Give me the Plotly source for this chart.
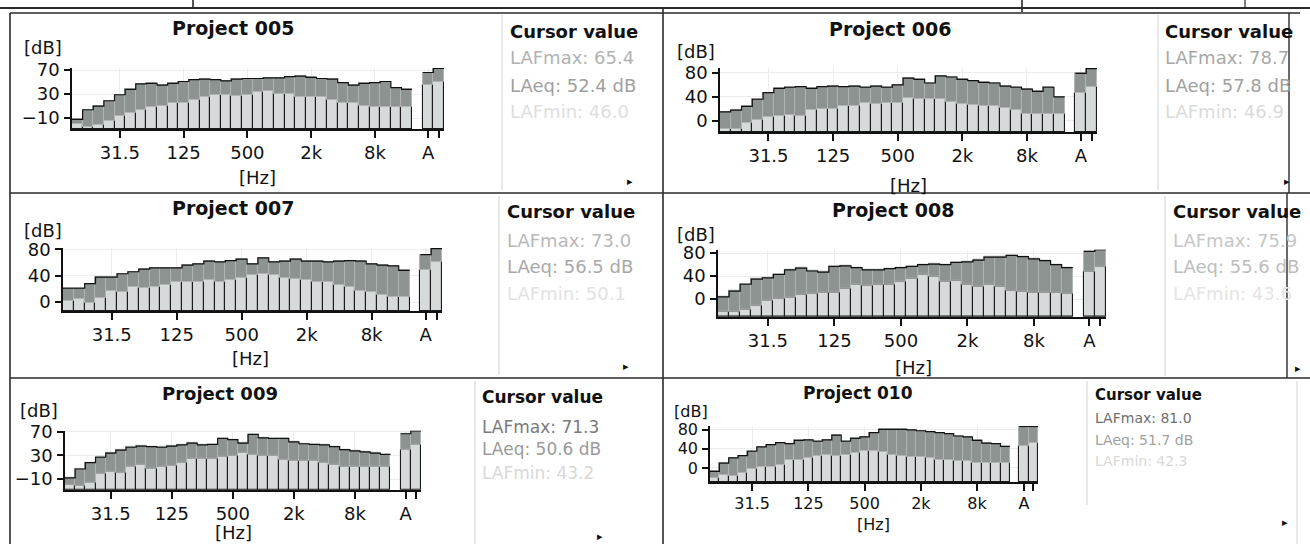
import plotly.graph_objects as go

W, H = 1310, 544
FONT = "DejaVu Sans"

# ---------------- data ----------------
bands = ['12.5', '16', '20', '25', '31.5', '40', '50', '63', '80', '100', '125', '160',
         '200', '250', '315', '400', '500', '630', '800', '1k', '1.25k', '1.6k', '2k',
         '2.5k', '3.15k', '4k', '5k', '6.3k', '8k', '10k', '12.5k', '16k']
labeled_bands = ['31.5', '125', '500', '2k', '8k']
a_label = 'A'

titles = ['Project 005', 'Project 006', 'Project 007', 'Project 008', 'Project 009', 'Project 010']

p005_low = [-19, -24, -21, -15, -7, -2, 4, 9, 10, 15, 16, 20, 25, 29, 29, 27,
            29, 34, 36, 30, 31, 26, 25, 25, 20, 15, 16, 10, 9, 8, 8, 8]
p005_high = [-12, 4, 10, 19, 29, 38, 47, 48, 45, 48, 51, 54, 55, 54, 52, 55,
             56, 56, 57, 57, 59, 60, 58, 56, 55, 49, 45, 48, 49, 51, 41, 38]
p005_a_low = [45, 51]
p005_a_high = [66, 73]

p006_low = [-13, -13, -4, 2, 7, 8, 10, 8, 18, 19, 19, 24, 25, 29, 28, 29,
            30, 38, 36, 36, 36, 32, 28, 26, 25, 24, 21, 18, 12, 12, 12, 12]
p006_high = [15, 18, 24, 36, 47, 54, 56, 57, 54, 57, 58, 57, 58, 56, 58, 56,
             60, 71, 69, 63, 75, 73, 69, 67, 64, 63, 58, 56, 53, 49, 56, 40]
p006_a_low = [46, 56]
p006_a_high = [79, 87]

p007_low = [1, 5, -2, 6, 17, 16, 23, 21, 23, 26, 31, 31, 31, 33, 31, 33,
            36, 41, 43, 41, 36, 35, 33, 31, 31, 26, 23, 17, 15, 11, 8, 7]
p007_high = [21, 21, 28, 38, 38, 43, 46, 50, 52, 52, 52, 56, 58, 62, 61, 63,
             65, 58, 67, 61, 62, 65, 62, 62, 61, 62, 63, 62, 58, 56, 55, 48]
p007_a_low = [48, 61]
p007_a_high = [72, 81]

p008_low = [-22, -22, -18, -11, -2, 1, 2, 8, 10, 12, 12, 18, 25, 23, 26, 26,
            30, 35, 42, 39, 30, 32, 25, 22, 25, 22, 14, 13, 12, 12, 12, 10]
p008_high = [4, 14, 26, 35, 37, 43, 51, 54, 49, 47, 57, 58, 55, 51, 51, 53,
             55, 57, 60, 61, 60, 64, 65, 68, 73, 73, 76, 74, 70, 67, 60, 55]
p008_a_low = [47, 57]
p008_a_high = [83, 86]

p009_low = [-19, -22, -16, -1, 3, 1, 11, 14, 8, 11, 12, 17, 24, 25, 25, 27,
            29, 34, 32, 29, 29, 22, 21, 21, 21, 18, 14, 11, 11, 10, 10, 10]
p009_high = [-8, 7, 18, 27, 34, 39, 44, 46, 45, 44, 46, 48, 51, 48, 49, 59,
             57, 51, 66, 60, 59, 59, 53, 50, 49, 48, 45, 40, 38, 36, 34, 32]
p009_a_low = [39, 48]
p009_a_high = [67, 72]

p010_low = [-21, -14, -17, -10, -2, 3, 2, 7, 17, 16, 21, 26, 28, 26, 28, 31,
            35, 35, 33, 28, 26, 24, 23, 21, 17, 16, 14, 14, 10, 10, 10, 10]
p010_high = [-7, 10, 21, 26, 35, 44, 49, 53, 51, 58, 59, 56, 59, 69, 56, 62,
             65, 74, 81, 81, 81, 80, 78, 76, 74, 72, 67, 65, 58, 52, 51, 45]
p010_a_low = [47, 53]
p010_a_high = [87, 87]

laf_max = [65.4, 78.7, 73.0, 75.9, 71.3, 81.0]
laeq = [52.4, 57.8, 56.5, 55.6, 50.6, 51.7]
laf_min = [46.0, 46.9, 50.1, 43.6, 43.2, 42.3]

lows = [p005_low, p006_low, p007_low, p008_low, p009_low, p010_low]
highs = [p005_high, p006_high, p007_high, p008_high, p009_high, p010_high]
a_lows = [p005_a_low, p006_a_low, p007_a_low, p008_a_low, p009_a_low, p010_a_low]
a_highs = [p005_a_high, p006_a_high, p007_a_high, p008_a_high, p009_a_high, p010_a_high]
ytick_sets = [[-10, 30, 70], [0, 40, 80], [0, 40, 80], [0, 40, 80], [-10, 30, 70], [0, 40, 80]]

# ---------------- layout config (pixels) ----------------
cfg = [
    dict(x0=72, x1=444, ytop=68, ybot=129, yr=(-28, 73.5), title=(233, 28), db=(43, 47), hz=(257, 178),
         fs=18, tfs=19, cur=(508, 31), cdy=(27, 54, 80), cfs=18, lfs=18, tri=(630, 181),
         ccol=('#b2b2b2', '#a0a0a0', '#dedede')),
    dict(x0=720, x1=1097, ytop=68, ybot=132, yr=(-18.5, 88), title=(890, 29), db=(696, 51), hz=(908, 185),
         fs=18, tfs=19, cur=(1163, 31), cdy=(27, 54, 80), cfs=18, lfs=18, tri=(1287, 182),
         ccol=('#a8a8a8', '#a0a0a0', '#dadada')),
    dict(x0=63, x1=442, ytop=248, ybot=311, yr=(-13.5, 82), title=(233, 208), db=(43, 231), hz=(250, 358),
         fs=18, tfs=19, cur=(505, 212), cdy=(28, 55, 81), cfs=18, lfs=18, tri=(626, 366),
         ccol=('#b8b8b8', '#a8a8a8', '#e2e2e2')),
    dict(x0=718, x1=1106, ytop=249.7, ybot=317, yr=(-31, 86), title=(893, 210), db=(696, 234), hz=(913, 367),
         fs=18, tfs=19, cur=(1171, 212), cdy=(28, 55, 81), cfs=18, lfs=18, tri=(1298, 368),
         ccol=('#c6c6c6', '#bdbdbd', '#e4e4e4')),
    dict(x0=65, x1=421, ytop=430.8, ybot=490, yr=(-28.7, 72), title=(220, 393), db=(39, 410), hz=(233, 532),
         fs=18, tfs=18, cur=(480, 397), cdy=(30, 52, 76), cfs=17, lfs=17, tri=(600, 536),
         ccol=('#7a7a7a', '#9a9a9a', '#d8d8d8')),
    dict(x0=710, x1=1038, ytop=426, ybot=482, yr=(-29.5, 88), title=(858, 393), db=(691, 411), hz=(873, 524),
         fs=16, tfs=17, cur=(1093, 395), cdy=(23, 45, 66), cfs=15, lfs=14, tri=(1285, 522),
         ccol=('#6e6e6e', '#a0a0a0', '#d8d8d8')),
]


def fx(x):
    return x / W


def fy(y):
    return 1 - y / H


fig = go.Figure()
annotations = []
shapes = []

n = len(bands)
a_index = [n + 1, n + 2]
band_index = list(range(n))
idx = band_index + a_index
tickvals = [bands.index(b) for b in labeled_bands] + a_index
ticktext = labeled_bands + [a_label, '']

for k in range(6):
    c = cfg[k]
    ax = '' if k == 0 else str(k + 1)
    xa, ya = 'x' + ax, 'y' + ax
    ymin, ymax = c['yr']
    low_all = lows[k] + a_lows[k]
    high_all = highs[k] + a_highs[k]

    # light bars (from bottom of axis to low value)
    fig.add_trace(go.Bar(
        x=idx, y=[v - ymin for v in low_all], base=ymin, width=1.0,
        marker=dict(color='#d6dada', line=dict(color='#1a1a1a', width=1.1)),
        xaxis=xa, yaxis=ya, hoverinfo='skip', showlegend=False))
    # dark range boxes
    fig.add_trace(go.Bar(
        x=idx, y=[h - l for h, l in zip(high_all, low_all)], base=low_all, width=1.0,
        marker=dict(color='#8d9391', line=dict(color='#b0b4b2', width=1)),
        xaxis=xa, yaxis=ya, hoverinfo='skip', showlegend=False))
    # black step line along the maxima
    sx = [i - 0.5 for i in band_index] + [band_index[-1] + 0.5, None] + \
         [i - 0.5 for i in a_index] + [a_index[-1] + 0.5]
    sy = highs[k] + [highs[k][-1], None] + a_highs[k] + [a_highs[k][-1]]
    fig.add_trace(go.Scatter(
        x=sx, y=sy, mode='lines', line=dict(color='#111111', width=1.2, shape='hv'),
        connectgaps=False, xaxis=xa, yaxis=ya, hoverinfo='skip', showlegend=False))

    fig.update_layout(**{
        'xaxis' + ax: dict(
            domain=[fx(c['x0']), fx(c['x1'])], anchor=ya, range=[-0.5, n + 2.5],
            tickvals=tickvals, ticktext=ticktext, ticks='outside', ticklen=7, tickwidth=1.5,
            tickcolor='#111', showline=True, linecolor='#111', linewidth=2,
            showgrid=True, gridcolor='#ececec', zeroline=False, automargin=False,
            tickfont=dict(family=FONT, size=c['fs'], color='#111'), ticklabelstandoff=-1,
            fixedrange=True),
        'yaxis' + ax: dict(
            domain=[fy(c['ybot']), fy(c['ytop'])], anchor=xa, range=[ymin, ymax],
            tickvals=ytick_sets[k], ticks='outside', ticklen=6, tickwidth=1.5, tickcolor='#111',
            showline=True, linecolor='#111', linewidth=1.5, showgrid=True, gridcolor='#ececec',
            zeroline=False, automargin=False, tickfont=dict(family=FONT, size=c['fs'], color='#111'),
            ticklabelstandoff=1, fixedrange=True),
    })

    def txt(x, y, s, size, color='#111', bold=False, anchor='center'):
        annotations.append(dict(
            x=fx(x), y=fy(y), xref='paper', yref='paper', text=('<b>%s</b>' % s) if bold else s,
            showarrow=False, xanchor=anchor, yanchor='middle',
            font=dict(family=FONT, size=size, color=color)))

    txt(c['title'][0], c['title'][1], titles[k], c['tfs'], bold=True)
    txt(c['db'][0], c['db'][1], '[dB]', c['fs'])
    txt(c['hz'][0], c['hz'][1], '[Hz]', c['fs'])
    cx, cy = c['cur']
    txt(cx, cy, 'Cursor value', c['cfs'], bold=True, anchor='left')
    d1, d2, d3 = c['cdy']
    txt(cx, cy + d1, 'LAFmax: %.1f' % laf_max[k], c['lfs'], color=c['ccol'][0], anchor='left')
    txt(cx, cy + d2, 'LAeq: %.1f dB' % laeq[k], c['lfs'], color=c['ccol'][1], anchor='left')
    txt(cx, cy + d3, 'LAFmin: %.1f' % laf_min[k], c['lfs'], color=c['ccol'][2], anchor='left')
    txt(c['tri'][0], c['tri'][1], '▸', 11)


def line(x0, y0, x1, y1, color='#2a2a2a', width=1.6):
    shapes.append(dict(type='line', xref='paper', yref='paper', x0=fx(x0), y0=fy(y0),
                       x1=fx(x1), y1=fy(y1), line=dict(color=color, width=width)))


# frame lines of the scanned report
line(0, 8, 1310, 8, width=1.8)
line(10, 13, 1300, 13, width=1.4)
line(193, 0, 193, 8)
line(1022, 0, 1022, 12)
line(1245, 0, 1245, 8, width=1.2)
line(10, 13, 10, 544)
line(663, 8, 663, 544)
line(10, 193, 1310, 193)
line(10, 378, 1310, 378)
line(1289, 13, 1289, 193, width=1.4)
line(1287, 193, 1287, 378, width=1.4)
# faint cursor box borders
faint = '#d2d2d2'
line(502, 15, 502, 190, color=faint, width=1)
line(1158, 15, 1158, 190, color=faint, width=1)
line(499, 196, 499, 375, color=faint, width=1)
line(1165, 196, 1165, 376, color=faint, width=1)
line(475, 381, 475, 544, color=faint, width=1)
line(1087, 381, 1087, 505, color=faint, width=1)
line(1297, 381, 1297, 544, color=faint, width=1)

fig.update_layout(
    width=W, height=H, margin=dict(l=0, r=0, t=0, b=0, pad=0, autoexpand=False),
    paper_bgcolor='white', plot_bgcolor='white', barmode='overlay', bargap=0,
    showlegend=False, annotations=annotations, shapes=shapes,
    font=dict(family=FONT, color='#111'),
)

fig.write_html(
    'out.html',
    config={'displayModeBar': False, 'responsive': False},
    post_script="var s=document.documentElement.style;s.margin='0';s.padding='0';s.overflow='hidden';"
                "var b=document.body.style;b.margin='0';b.padding='0';b.overflow='hidden';"
                "var d=document.getElementsByClassName('plotly-graph-div')[0];"
                "d.style.position='fixed';d.style.top='0px';d.style.left='0px';",
)
